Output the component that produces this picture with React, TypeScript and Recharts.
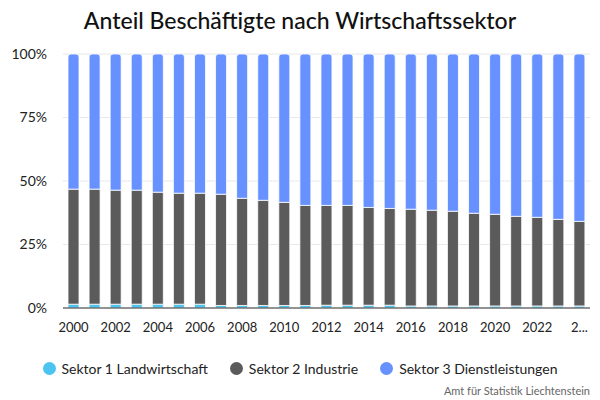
import React from 'react';
import { BarChart, Bar, XAxis, YAxis, CartesianGrid } from 'recharts';

const years = [
  '2000', '2001', '2002', '2003', '2004', '2005', '2006', '2007', '2008', '2009',
  '2010', '2011', '2012', '2013', '2014', '2015', '2016', '2017', '2018', '2019',
  '2020', '2021', '2022', '2023', '2024',
];

// share in percent
const sektor1 = [
  1.5, 1.5, 1.5, 1.5, 1.5, 1.5, 1.5, 1.0, 1.0, 1.0,
  1.0, 1.0, 1.1, 1.1, 1.1, 1.1, 0.8, 0.8, 0.8, 0.8,
  0.8, 0.8, 0.8, 0.8, 0.8,
];
const sektor2 = [
  45.3, 45.3, 44.9, 44.9, 44.1, 43.7, 43.7, 43.8, 42.2, 41.4,
  40.6, 39.4, 39.3, 39.3, 38.5, 38.1, 38.1, 37.7, 37.3, 36.5,
  36.1, 35.3, 34.9, 34.1, 33.3,
];
const sektor3 = [
  53.2, 53.2, 53.6, 53.6, 54.4, 54.8, 54.8, 55.2, 56.8, 57.6,
  58.4, 59.6, 59.6, 59.6, 60.4, 60.8, 61.1, 61.5, 61.9, 62.7,
  63.1, 63.9, 64.3, 65.1, 65.9,
];

const yTicks = [0, 25, 50, 75, 100];

const series = [
  { key: 's1', name: 'Sektor 1 Landwirtschaft', color: '#4cc4f0' },
  { key: 's2', name: 'Sektor 2 Industrie', color: '#5b5b5b' },
  { key: 's3', name: 'Sektor 3 Dienstleistungen', color: '#6691ff' },
];

const data = years.map((y, i) => ({ year: y, s1: sektor1[i], s2: sektor2[i], s3: sektor3[i] }));

const FONT = 'Lato, "Noto Sans", sans-serif';

const YearTick = ({ x, y, payload }: any) => {
  const last = payload.value === years[years.length - 1];
  return (
    <text x={x} y={y} dy={12} textAnchor="middle" fill="#222" fontSize={13} fontFamily={FONT}>
      {last ? '2...' : payload.value}
    </text>
  );
};

export default function App() {
  return (
    <div style={{ position: 'absolute', left: 0, top: 0, width: 600, height: 400, background: '#fff', fontFamily: FONT }}>
      <div style={{ position: 'absolute', top: 6, left: 0, width: 600, textAlign: 'center', fontSize: 23, fontWeight: 500, color: '#111' }}>
        Anteil Beschäftigte nach Wirtschaftssektor
      </div>
      <BarChart width={600} height={400} data={data} margin={{ top: 54, right: 10, bottom: 62, left: 0 }} barSize={11}>
        <CartesianGrid vertical={false} stroke="#e8e8e8" />
        <XAxis
          dataKey="year"
          interval={1}
          tickLine={false}
          axisLine={{ stroke: '#333' }}
          tick={<YearTick />}
          height={30}
          tickMargin={6}
        />
        <YAxis
          domain={[0, 100]}
          ticks={yTicks}
          tickFormatter={(v) => `${v}%`}
          axisLine={false}
          tickLine={false}
          width={63}
          tickSize={0}
          tickMargin={16}
          tick={{ fill: '#222', fontSize: 14, fontFamily: FONT }}
        />
        {series.map((s) => (
          <Bar
            key={s.key}
            dataKey={s.key}
            name={s.name}
            stackId="a"
            fill={s.color}
            stroke="#fff"
            strokeWidth={0.8}
            radius={s.key === 's3' ? [3, 3, 0, 0] : 0}
            isAnimationActive={false}
          />
        ))}
      </BarChart>
      <div style={{ position: 'absolute', top: 360, left: 0, width: 600, display: 'flex', justifyContent: 'center', gap: 22, fontSize: 14, color: '#222' }}>
        {series.map((s) => (
          <span key={s.key} style={{ display: 'flex', alignItems: 'center', gap: 6 }}>
            <span style={{ width: 13, height: 13, borderRadius: 7, background: s.color, display: 'inline-block' }} />
            {s.name}
          </span>
        ))}
      </div>
      <div style={{ position: 'absolute', top: 384, right: 10, fontSize: 11, color: '#666' }}>
        Amt für Statistik Liechtenstein
      </div>
    </div>
  );
}
